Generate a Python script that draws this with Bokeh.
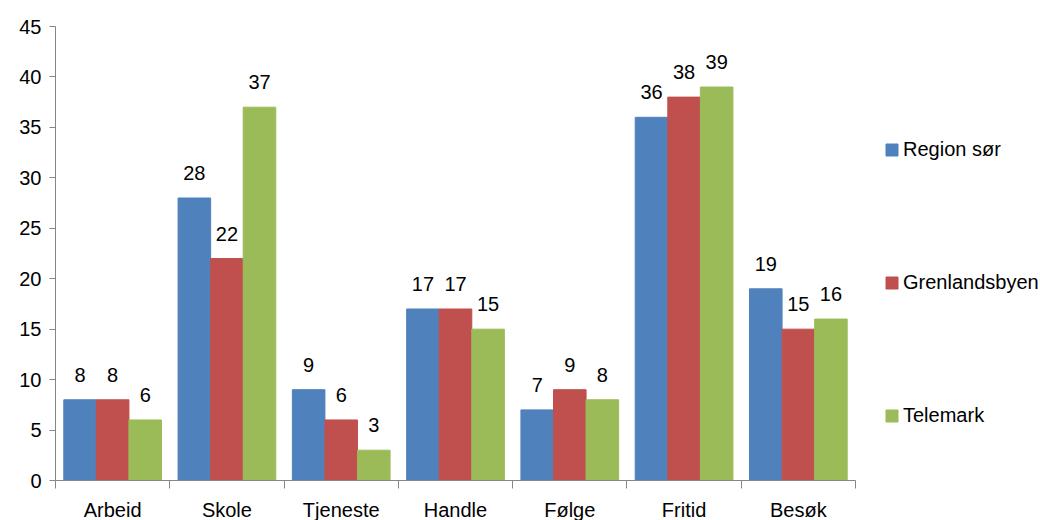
from bokeh.plotting import figure
from bokeh.models import Range1d, FixedTicker, Legend, LegendItem, ColumnDataSource, LabelSet
from bokeh.core.properties import value
from bokeh.embed import file_html
from bokeh.resources import INLINE

categories = ["Arbeid", "Skole", "Tjeneste", "Handle", "Følge", "Fritid", "Besøk"]
series_names = ["Region sør", "Grenlandsbyen", "Telemark"]
region_sor = [8, 28, 9, 17, 7, 36, 19]
grenlandsbyen = [8, 22, 6, 17, 9, 38, 15]
telemark = [6, 37, 3, 15, 8, 39, 16]
y_ticks = [0, 5, 10, 15, 20, 25, 30, 35, 40, 45]

colors = ["#4F81BD", "#C0504D", "#9BBB59"]
FONT = "Liberation Sans"

p = figure(width=1040, height=520, output_backend="svg", toolbar_location=None,
           x_range=Range1d(0, len(categories)), y_range=Range1d(0, 45),
           min_border_left=55, min_border_top=26, min_border_bottom=40, min_border_right=185)
p.frame_width = 800
p.frame_height = 454
p.outline_line_color = None
p.grid.visible = False

bw = 0.285
offsets = [-bw, 0, bw]
renderers = []
for vals, off, col in zip([region_sor, grenlandsbyen, telemark], offsets, colors):
    xs = [i + 0.5 + off for i in range(len(categories))]
    src = ColumnDataSource(dict(x=xs, top=vals, label=[str(v) for v in vals]))
    r = p.vbar(x="x", top="top", width=bw, bottom=0, source=src, fill_color=col,
               line_color=col, line_width=1)
    renderers.append(r)
    p.add_layout(LabelSet(x="x", y="top", text="label", source=src, text_align="center",
                          text_baseline="alphabetic", y_offset=18, text_font=value(FONT),
                          text_font_size=value("20px"), text_color=value("#000000")))

# axes
ax = p.xaxis[0]
ax.ticker = FixedTicker(ticks=[i + 0.5 for i in range(len(categories))],
                        minor_ticks=list(range(len(categories) + 1)))
ax.major_label_overrides = {i + 0.5: c for i, c in enumerate(categories)}
ax.major_tick_line_color = None
ax.minor_tick_out = 8
ax.minor_tick_in = 0
ax.minor_tick_line_color = "#868686"
ax.axis_line_color = "#868686"
ax.major_label_text_font = FONT
ax.major_label_text_font_size = "20px"
ax.major_label_text_color = "#000000"
ax.major_label_standoff = 10

ay = p.yaxis[0]
ay.ticker = FixedTicker(ticks=y_ticks)
ay.minor_tick_line_color = None
ay.major_tick_out = 6
ay.major_tick_in = 0
ay.major_tick_line_color = "#868686"
ay.axis_line_color = "#868686"
ay.major_label_text_font = FONT
ay.major_label_text_font_size = "20px"
ay.major_label_text_color = "#000000"
ay.major_label_standoff = 8

legend = Legend(items=[LegendItem(label=n, renderers=[r]) for n, r in zip(series_names, renderers)],
                location=(29, 53), orientation="vertical", spacing=110,
                glyph_width=15, glyph_height=15, label_standoff=4, padding=0, margin=0,
                label_text_font=FONT, label_text_font_size="20px", label_text_color="#000000",
                border_line_color=None, background_fill_alpha=0)
p.add_layout(legend, "right")

open("out.html", "w").write(file_html(p, INLINE))
